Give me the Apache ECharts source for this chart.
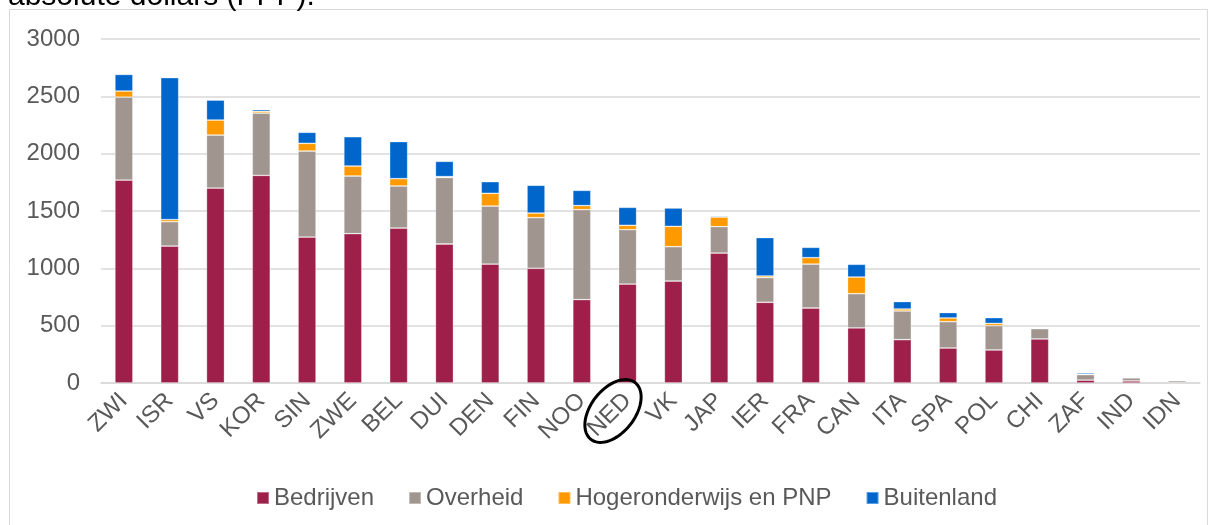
<!DOCTYPE html>
<html>
<head>
<meta charset="utf-8">
<script src="https://cdn.jsdelivr.net/npm/echarts@6/dist/echarts.min.js"></script>
<style>
html,body{margin:0;padding:0;background:#fff;}
#c{width:1218px;height:525px;}
</style>
</head>
<body>
<div id="c"></div>
<script>
const categories = ['ZWI','ISR','VS','KOR','SIN','ZWE','BEL','DUI','DEN','FIN','NOO','NED','VK','JAP','IER','FRA','CAN','ITA','SPA','POL','CHI','ZAF','IND','IDN'];
const bedrijven  = [1770,1194,1700,1811,1273,1302,1351,1212,1037,1000,727,863,889,1133,704,654,480,378,305,288,384,25,18,3];
const overheid   = [723,213,462,543,750,503,367,580,506,442,785,474,300,231,215,383,299,250,230,212,90,48,27,17];
const hogeronderwijs = [53,18,131,15,67,87,64,8,111,40,35,38,177,83,14,56,145,17,32,20,5,3,2,1];
const buitenland = [145,1238,174,15,96,256,323,133,102,242,133,157,160,9,335,90,111,65,47,50,5,12,1,0];
const seriesNames = ['Bedrijven','Overheid','Hogeronderwijs en PNP','Buitenland'];
const yTicks = {min:0, max:3000, interval:500};
const titleText = 'absolute dollars (PPP).';

const colors = ['#9E1F4A','#A0968F','#FF9900','#0066CC'];
const font = 'Liberation Sans, Arial, sans-serif';

function ellipsePoints(cx, cy, a, b, rotDeg, n){
  const pts = [];
  const r = rotDeg*Math.PI/180;
  for(let i=0;i<n;i++){
    const t = 2*Math.PI*i/n;
    const x = a*Math.cos(t), y = b*Math.sin(t);
    pts.push([cx + x*Math.cos(r) - y*Math.sin(r), cy + x*Math.sin(r) + y*Math.cos(r)]);
  }
  return pts;
}

const chart = echarts.init(document.getElementById('c'), null, {renderer:'canvas'});
const dataSets = [bedrijven, overheid, hogeronderwijs, buitenland];
const option = {
  animation:false,
  backgroundColor:'#fff',
  textStyle:{fontFamily:font},
  grid:{left:101, right:18, top:39, bottom:142, containLabel:false},
  legend:{
    data:seriesNames,
    left:251, top:481,
    itemWidth:12, itemHeight:12, itemGap:34,
    icon:'rect',
    textStyle:{fontSize:24, color:'#595959', fontFamily:font}
  },
  xAxis:{
    type:'category', data:categories,
    axisLine:{lineStyle:{color:'#D9D9D9', width:1.5}},
    axisTick:{show:false},
    axisLabel:{rotate:45, fontSize:24, color:'#595959', margin:14, interval:0, fontFamily:font}
  },
  yAxis:{
    type:'value', min:yTicks.min, max:yTicks.max, interval:yTicks.interval,
    axisLine:{show:false}, axisTick:{show:false},
    splitLine:{lineStyle:{color:'#D9D9D9', width:1.5}},
    axisLabel:{fontSize:24, color:'#595959', margin:21, fontFamily:font, formatter:(v)=>String(v)}
  },
  series: seriesNames.map((n,i)=>({
    name:n, type:'bar', stack:'total', data:dataSets[i], barWidth:18,
    itemStyle:{color:colors[i], borderColor:'rgba(255,255,255,0.35)', borderWidth:0.8}
  })),
  graphic:[
    {type:'rect', shape:{x:9.5, y:9.5, width:1198, height:540}, style:{fill:'none', stroke:'#D9D9D9', lineWidth:1}, silent:true, z:-1},
    {type:'text', left:8, top:-18, style:{text:titleText, fontSize:30, fill:'#000', fontFamily:font}},
    {type:'polygon', shape:{points:ellipsePoints(613,411,36,22,-52,72)}, style:{fill:'none', stroke:'#000', lineWidth:3}, z:100}
  ]
};
chart.setOption(option);
</script>
</body>
</html>
